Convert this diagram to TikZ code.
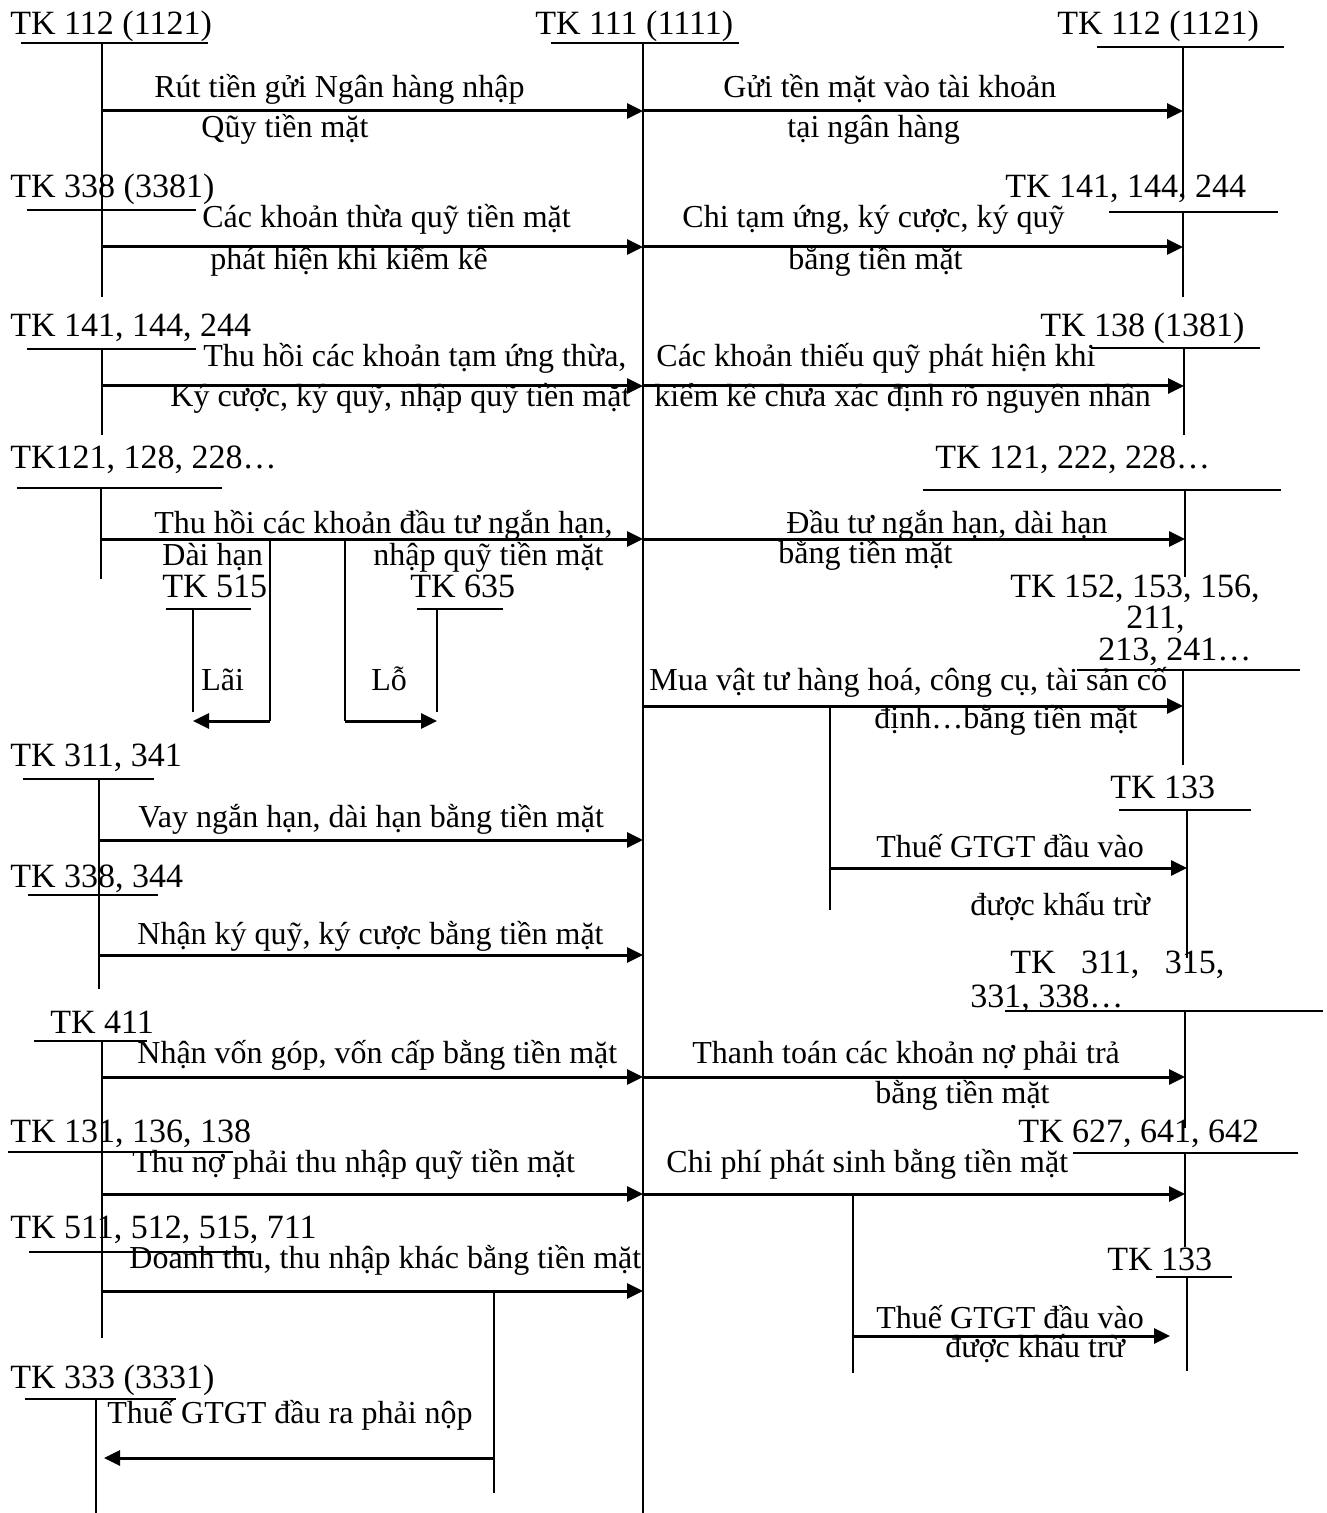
\documentclass[tikz,border=0pt]{standalone}
\usepackage{fontspec}
\setmainfont{Liberation Serif}
\usetikzlibrary{arrows.meta}
\begin{document}
\begin{tikzpicture}[x=0.5pt,y=-0.5pt,
  acc/.style={inner sep=0pt, anchor=base west, font=\fontsize{17}{19}\selectfont},
  txt/.style={inner sep=0pt, anchor=base west, font=\fontsize{16}{18}\selectfont},
  tline/.style={line width=1.1pt},
  flow/.style={line width=1.5pt, -{Triangle[length=8pt,width=7.5pt]}},
  branch/.style={line width=1.1pt}]
\useasboundingbox (0,0) rectangle (1326,1513);

% ---------- account labels ----------
\node[acc] (l1)  at (10,35)    {TK 112 (1121)};
\node[acc] (m)   at (535,35)   {TK 111 (1111)};
\node[acc] (r1)  at (1057,35)  {TK 112 (1121)};
\node[acc] (l2)  at (10,198)   {TK 338 (3381)};
\node[acc] (r2)  at (1005,198) {TK 141, 144, 244};
\node[acc] (l3)  at (10,337)   {TK 141, 144, 244};
\node[acc] (r3)  at (1040,337) {TK 138 (1381)};
\node[acc] (l4)  at (10,468)   {TK121, 128, 228…};
\node[acc] (r4)  at (935,468)  {TK 121, 222, 228…};
\node[acc] (t515) at (162,597) {TK 515};
\node[acc] (t635) at (410,597) {TK 635};
\node[acc] (r5a) at (1010,597) {TK 152, 153, 156,};
\node[acc] (r5b) at (1126,628) {211,};
\node[acc] (r5c) at (1098,660) {213, 241…};
\node[acc] (l5)  at (10,766)   {TK 311, 341};
\node[acc] (r133a) at (1110,798) {TK 133};
\node[acc] (l6)  at (10,887)   {TK 338, 344};
\node[acc] (r6a) at (1010,973) {TK\hspace{0.75em}311,\hspace{0.75em}315,};
\node[acc] (r6b) at (970,1007) {331, 338…};
\node[acc] (l7)  at (50,1033)  {TK 411};
\node[acc] (l8)  at (10,1142)  {TK 131, 136, 138};
\node[acc] (r7)  at (1018,1142) {TK 627, 641, 642};
\node[acc] (l9)  at (10,1238)  {TK 511, 512, 515, 711};
\node[acc] (r133b) at (1107,1270) {TK 133};
\node[acc] (l10) at (10,1388)  {TK 333 (3331)};

% ---------- arrow texts ----------
\node[txt] (x1a) at (154,98)   {Rút tiền gửi Ngân hàng nhập};
\node[txt] (x1b) at (201,138)  {Qũy tiền mặt};
\node[txt] (y1a) at (723,98)   {Gửi tền mặt vào tài khoản};
\node[txt] (y1b) at (787,138)  {tại ngân hàng};
\node[txt] (x2a) at (202,228)  {Các khoản thừa quỹ tiền mặt};
\node[txt] (x2b) at (210,270)  {phát hiện khi kiểm kê};
\node[txt] (y2a) at (682,228)  {Chi tạm ứng, ký cược, ký quỹ};
\node[txt] (y2b) at (788,270)  {bằng tiền mặt};
\node[txt] (x3a) at (203,367)  {Thu hồi các khoản tạm ứng thừa,};
\node[txt] (x3b) at (170,407)  {Ký cược, ký quỹ, nhập quỹ tiền mặt};
\node[txt] (y3a) at (656,367)  {Các khoản thiếu quỹ phát hiện khi};
\node[txt] (y3b) at (654,407)  {kiểm kê chưa xác định rõ nguyên nhân};
\node[txt] (x4a) at (154,533)  {Thu hồi các khoản đầu tư ngắn hạn,};
\node[txt] (x4b) at (162,565)  {Dài hạn};
\node[txt] (x4c) at (373,565)  {nhập quỹ tiền mặt};
\node[txt] (lai) at (201,690)  {Lãi};
\node[txt] (lo)  at (371,690)  {Lỗ};
\node[txt] (y4a) at (786,533)  {Đầu tư ngắn hạn, dài hạn};
\node[txt] (y4b) at (778,563)  {bằng tiền mặt};
\node[txt] (y5a) at (649,690)  {Mua vật tư hàng hoá, công cụ, tài sản cố};
\node[txt] (y5b) at (874,728)  {định…bằng tiền mặt};
\node[txt] (v1a) at (876,857)  {Thuế GTGT đầu vào};
\node[txt] (v1b) at (970,915)  {được khấu trừ};
\node[txt] (x5)  at (138,827)  {Vay ngắn hạn, dài hạn bằng tiền mặt};
\node[txt] (x6)  at (137,944)  {Nhận ký quỹ, ký cược bằng tiền mặt};
\node[txt] (x7)  at (137,1063) {Nhận vốn góp, vốn cấp bằng tiền mặt};
\node[txt] (y6a) at (692,1063) {Thanh toán các khoản nợ phải trả};
\node[txt] (y6b) at (875,1103) {bằng tiền mặt};
\node[txt] (x8)  at (132,1172) {Thu nợ phải thu nhập quỹ tiền mặt};
\node[txt] (y7)  at (666,1172) {Chi phí phát sinh bằng tiền mặt};
\node[txt] (x9)  at (129,1268) {Doanh thu, thu nhập khác bằng tiền mặt};
\node[txt] (v2a) at (876,1328) {Thuế GTGT đầu vào};
\node[txt] (v2b) at (945,1357) {được khấu trừ};
\node[txt] (x10) at (107,1423) {Thuế GTGT đầu ra phải nộp};

% ---------- T-account lines ----------
\draw[tline] (21,43) -- (208,43);   \draw[tline] (102,43) -- (102,297);
\draw[tline] (551,43) -- (739,43);  \draw[tline] (643,43) -- (643,1513);
\draw[tline] (1097,47) -- (1284,47); \draw[tline] (1183,47) -- (1183,195);
\draw[tline] (27,210) -- (196,210); \draw[tline] (102,210) -- (102,297);
\draw[tline] (1109,212) -- (1278,212); \draw[tline] (1183,212) -- (1183,297);
\draw[tline] (27,349) -- (196,349); \draw[tline] (102,349) -- (102,435);
\draw[tline] (1091,348) -- (1260,348); \draw[tline] (1184,348) -- (1184,435);
\draw[tline] (17,488) -- (222,488); \draw[tline] (101,488) -- (101,579);
\draw[tline] (923,490) -- (1281,490); \draw[tline] (1185,490) -- (1185,577);
\draw[tline] (166,609) -- (251,609); \draw[tline] (193,609) -- (193,712);
\draw[tline] (417,609) -- (503,609); \draw[tline] (437,609) -- (437,712);
\draw[tline] (1077,670) -- (1300,670); \draw[tline] (1183,670) -- (1183,765);
\draw[tline] (1119,810) -- (1251,810); \draw[tline] (1187,810) -- (1187,958);
\draw[tline] (23,779) -- (154,779); \draw[tline] (99,779) -- (99,989);
\draw[tline] (28,895) -- (158,895);
\draw[tline] (1005,1011) -- (1323,1011); \draw[tline] (1185,1011) -- (1185,1128);
\draw[tline] (34,1041) -- (147,1041); \draw[tline] (102,1041) -- (102,1338);
\draw[tline] (8,1152) -- (233,1152);
\draw[tline] (1073,1153) -- (1298,1153); \draw[tline] (1185,1153) -- (1185,1247);
\draw[tline] (1156,1277) -- (1232,1277); \draw[tline] (1187,1277) -- (1187,1371);
\draw[tline] (29,1252) -- (254,1252);
\draw[tline] (25,1399) -- (176,1399); \draw[tline] (96,1399) -- (96,1513);

% ---------- flows ----------
\coordinate (a1s) at (102,111); \coordinate (a1m) at (643,111); \coordinate (a1e) at (1183,111);
\draw[flow] (a1s) -- (a1m); \draw[flow] (a1m) -- (a1e);
\coordinate (a2s) at (102,247); \coordinate (a2m) at (643,247); \coordinate (a2e) at (1183,247);
\draw[flow] (a2s) -- (a2m); \draw[flow] (a2m) -- (a2e);
\coordinate (a3s) at (102,386); \coordinate (a3m) at (643,386); \coordinate (a3e) at (1184,386);
\draw[flow] (a3s) -- (a3m); \draw[flow] (a3m) -- (a3e);
\coordinate (a4s) at (101,539); \coordinate (a4m) at (643,539); \coordinate (a4e) at (1185,539);
\draw[flow] (a4s) -- (a4m); \draw[flow] (a4m) -- (a4e);
% Lãi / Lỗ
\coordinate (b1t) at (270,539); \coordinate (b1b) at (270,721); \coordinate (b1e) at (193,721);
\draw[branch] (b1t) -- (b1b); \draw[flow] (b1b) -- (b1e);
\coordinate (b2t) at (345,539); \coordinate (b2b) at (345,721); \coordinate (b2e) at (437,721);
\draw[branch] (b2t) -- (b2b); \draw[flow] (b2b) -- (b2e);
% purchases
\coordinate (a5s) at (643,706); \coordinate (a5e) at (1183,706);
\draw[flow] (a5s) -- (a5e);
\coordinate (b3t) at (830,706); \coordinate (b3b) at (830,910); \coordinate (b3m) at (830,868); \coordinate (b3e) at (1187,868);
\draw[branch] (b3t) -- (b3b); \draw[flow] (b3m) -- (b3e);
\coordinate (a6s) at (99,840); \coordinate (a6e) at (643,840);
\draw[flow] (a6s) -- (a6e);
\coordinate (a7s) at (99,955); \coordinate (a7e) at (643,955);
\draw[flow] (a7s) -- (a7e);
\coordinate (a8s) at (102,1077); \coordinate (a8m) at (643,1077); \coordinate (a8e) at (1185,1077);
\draw[flow] (a8s) -- (a8m); \draw[flow] (a8m) -- (a8e);
\coordinate (a9s) at (102,1194); \coordinate (a9m) at (643,1194); \coordinate (a9e) at (1185,1194);
\draw[flow] (a9s) -- (a9m); \draw[flow] (a9m) -- (a9e);
\coordinate (b4t) at (853,1194); \coordinate (b4b) at (853,1373); \coordinate (b4m) at (853,1336); \coordinate (b4e) at (1170,1336);
\draw[branch] (b4t) -- (b4b); \draw[flow] (b4m) -- (b4e);
\coordinate (a10s) at (102,1291); \coordinate (a10e) at (643,1291);
\draw[flow] (a10s) -- (a10e);
\coordinate (b5t) at (494,1291); \coordinate (b5b) at (494,1493); \coordinate (b5m) at (494,1458); \coordinate (b5e) at (104,1458);
\draw[branch] (b5t) -- (b5b); \draw[flow] (b5m) -- (b5e);
\end{tikzpicture}
\end{document}
